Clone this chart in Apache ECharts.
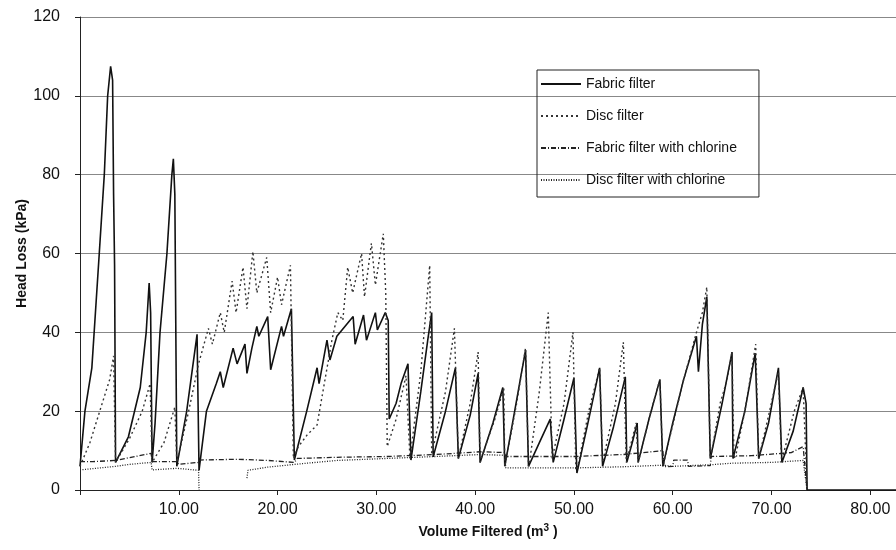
<!DOCTYPE html>
<html>
<head>
<meta charset="utf-8">
<script src="https://cdn.jsdelivr.net/npm/echarts@6/dist/echarts.min.js"></script>
<style>
  html, body { margin: 0; padding: 0; background: #fff; }
  #chart { width: 896px; height: 550px; }
</style>
</head>
<body>
<div id="chart"></div>
<script>
// [volume m3, head loss kPa]
var fabricFilter = [
    [0, 6], [0.5, 20], [1.2, 31], [1.95, 60], [2.46, 80], [2.8, 100], [3.1, 107.5], [3.3, 104], [3.4, 75], [3.5, 57], [3.6, 7],
    [4.9, 13.5], [6.1, 26], [6.7, 40], [7.0, 52.5], [7.15, 45], [7.3, 7],
    [7.6, 17], [8.1, 40], [8.8, 60], [9.3, 80], [9.45, 84], [9.6, 75], [9.8, 6],
    [10.8, 20], [11.85, 39.5], [12.05, 5],
    [12.8, 20], [13.8, 27], [14.2, 30], [14.5, 26], [15.5, 36], [15.9, 32], [16.7, 37], [16.9, 29.6], [17.4, 36], [17.9, 41.5], [18.1, 39],
    [19.0, 44], [19.3, 30.5], [20.4, 41.5], [20.6, 39], [21.4, 46], [21.7, 7.6],
    [22.95, 20], [24.0, 31], [24.2, 27], [25.0, 38], [25.3, 33], [26.0, 39], [27.65, 44], [27.85, 37], [28.7, 44.4], [29.0, 38],
    [29.9, 45], [30.1, 40.6], [30.9, 45], [31.2, 43], [31.3, 18],
    [32.0, 22], [32.5, 27], [33.2, 32], [33.5, 7.6],
    [34.5, 25], [35.2, 38], [35.6, 45], [35.75, 8.4],
    [37.0, 20], [38.0, 31], [38.3, 8],
    [39.5, 19], [40.3, 29.6], [40.5, 7],
    [41.8, 17], [42.8, 26], [43.0, 6],
    [44.0, 20], [45.1, 35.5], [45.4, 6],
    [46.5, 12], [47.6, 18], [47.9, 7],
    [49.0, 18], [50.0, 28.4], [50.3, 4.3],
    [51.5, 18], [52.6, 31], [52.9, 6],
    [54.0, 16], [55.2, 28.7], [55.35, 7],
    [55.9, 12], [56.4, 17], [56.5, 7],
    [57.6, 18], [58.7, 28], [59.0, 6],
    [60.0, 17], [61.1, 28], [62.4, 39], [62.6, 30], [63.0, 42], [63.45, 49], [63.8, 8],
    [65.0, 22], [66.0, 35], [66.1, 8],
    [67.3, 20], [68.35, 34.7], [68.7, 8],
    [69.7, 17], [70.7, 31], [71.05, 7],
    [72.2, 15], [73.2, 26], [73.5, 22], [73.6, 0], [82.6, 0]
];

var discFilter = [
    [0, 6], [1.0, 12], [2.0, 20], [3.0, 28], [3.4, 34], [3.6, 7],
    [3.7, 7], [5.0, 13], [6.3, 20], [7.1, 27], [7.3, 7],
    [7.4, 7], [8.5, 12], [9.6, 21], [9.8, 7],
    [9.9, 7], [11.0, 20], [12.0, 32], [13.0, 41], [13.4, 37], [14.2, 45], [14.6, 40], [15.4, 53], [15.8, 45], [16.5, 56.5], [16.9, 46],
    [17.5, 60.5], [17.9, 50], [18.9, 59], [19.3, 45], [20.0, 54], [20.4, 47], [21.3, 57], [21.6, 8],
    [21.7, 8], [22.1, 11], [23.0, 14], [24.0, 16.5], [24.8, 28], [25.5, 38], [26.1, 45], [26.6, 43], [27.1, 56.5], [27.6, 50],
    [28.5, 60], [28.8, 49], [29.5, 62.6], [29.9, 52], [30.7, 65], [30.95, 50], [31.1, 11],
    [31.2, 11], [32.0, 18], [33.0, 29], [33.4, 8], [33.6, 8], [34.5, 30], [35.0, 45], [35.4, 57], [35.6, 9],
    [35.8, 9], [37.0, 25], [37.9, 41], [38.3, 8],
    [38.5, 8], [39.5, 22], [40.3, 35], [40.5, 7],
    [40.6, 8], [42.0, 18], [42.9, 26], [43.0, 6],
    [43.1, 6], [44.2, 22], [45.1, 36], [45.4, 6],
    [45.5, 7], [46.5, 25], [47.4, 45], [47.8, 8],
    [48.0, 8], [49.0, 22], [49.9, 40], [50.2, 5],
    [50.4, 6], [51.5, 20], [52.6, 31], [52.9, 7],
    [53.0, 7], [54.2, 22], [55.0, 37.5], [55.3, 7],
    [55.4, 7], [56.3, 17], [56.5, 7],
    [56.6, 7], [57.8, 20], [58.7, 28], [59.0, 6],
    [59.1, 6], [61.0, 27], [62.4, 40], [63.0, 45], [63.45, 51.5], [63.8, 8],
    [63.9, 9], [64.8, 22], [65.5, 28], [66.0, 35], [66.2, 8],
    [66.4, 9], [67.3, 20], [68.4, 37], [68.7, 8],
    [68.8, 9], [69.8, 20], [70.7, 30], [71.0, 8],
    [71.2, 9], [72.3, 20], [73.2, 26], [73.6, 0]
];

var fabricChlorine = [
    [0, 7.2], [1.3, 7.2], [3.6, 7.5], [5.0, 8.2], [7.2, 9.3], [7.3, 7.2], [9.8, 7.2], [10.0, 6.5], [12.0, 7.0], [12.1, 7.6],
    [16.0, 7.8], [19.0, 7.5], [21.7, 7.0], [22.0, 8.0], [26.0, 8.3], [31.0, 8.5], [36.0, 9.0], [40.5, 9.7], [43.0, 9.5],
    [43.1, 8.5], [50.0, 8.5], [55.0, 9.0], [59.0, 10.0], [59.1, 5.9], [60.0, 6.0], [60.1, 7.6], [61.5, 7.6], [61.6, 6.0],
    [63.8, 6.2], [63.9, 8.5], [68.0, 8.7], [72.0, 9.5], [73.2, 11], [73.6, 0]
];

var discChlorine = [
    [0, 5.1], [3.6, 6.0], [5.0, 6.5], [7.2, 7.0], [7.3, 5.1], [9.8, 5.5], [10.0, 5.1], [12.0, 5.0], [12.05, 0], [14.0, '-'],
    [16.9, 3], [17.0, 5], [19.0, 5.8], [21.7, 6.5], [26.0, 7.5], [31.0, 8.0], [36.0, 8.5], [40.5, 9.0], [43.0, 8.8],
    [43.1, 5.6], [50.0, 5.6], [55.0, 5.9], [59.0, 6.3], [60.0, 6.0], [63.8, 6.4], [66.0, 6.8], [70.0, 7.0], [73.2, 7.5], [73.6, 0]
];

var seriesNames = ['Fabric filter', 'Disc filter', 'Fabric filter with chlorine', 'Disc filter with chlorine'];

var font = '"Liberation Sans", Arial, sans-serif';
var myChart = echarts.init(document.getElementById('chart'));

function lineSeries(name, data, style) {
    return {
        name: name,
        type: 'line',
        data: data,
        symbol: 'none',
        animation: false,
        itemStyle: { color: style.color },
        lineStyle: style
    };
}

var option = {
    backgroundColor: '#fff',
    color: ['#111', '#333', '#222', '#222'],
    grid: { left: 80, right: 0, top: 17, bottom: 60 },
    legend: {
        data: seriesNames,
        orient: 'vertical',
        left: 537,
        top: 70,
        itemWidth: 40,
        itemHeight: 10,
        itemGap: 18,
        padding: [7, 22, 10, 3],
        borderColor: '#222',
        borderWidth: 1,
        itemStyle: { opacity: 0 },
        textStyle: { fontFamily: font, fontSize: 14, color: '#111' }
    },
    xAxis: {
        type: 'value',
        min: 0,
        max: 82.6,
        interval: 10,
        name: 'Volume Filtered (m{sup|3} )',
        nameLocation: 'middle',
        nameGap: 33,
        nameTextStyle: {
            fontFamily: font, fontSize: 14, fontWeight: 'bold', color: '#111',
            rich: { sup: { fontFamily: font, fontSize: 10, fontWeight: 'bold', color: '#111', padding: [0, 0, 8, 0] } }
        },
        axisLine: { lineStyle: { color: '#222', width: 1 } },
        axisTick: { show: true, length: 5, lineStyle: { color: '#222' } },
        axisLabel: {
            fontFamily: font, fontSize: 16, color: '#111', margin: 12, showMaxLabel: false,
            formatter: function (v) { return v === 0 ? '' : v.toFixed(2); }
        },
        splitLine: { show: false }
    },
    yAxis: {
        type: 'value',
        min: 0,
        max: 120,
        interval: 20,
        name: 'Head Loss (kPa)',
        nameLocation: 'middle',
        nameGap: 51,
        nameMoveOverlap: false,
        nameTextStyle: { fontFamily: font, fontSize: 14, fontWeight: 'bold', color: '#111' },
        axisLine: { show: true, lineStyle: { color: '#222', width: 1 } },
        axisTick: { show: true, length: 5, lineStyle: { color: '#222' } },
        axisLabel: { fontFamily: font, fontSize: 16, color: '#111', margin: 20 },
        splitLine: { lineStyle: { color: '#888', width: 1 } }
    },
    series: [
        lineSeries(seriesNames[0], fabricFilter, { color: '#111', width: 1.6, type: 'solid' }),
        lineSeries(seriesNames[1], discFilter, { color: '#333', width: 1.4, type: [2, 3] }),
        lineSeries(seriesNames[2], fabricChlorine, { color: '#222', width: 1.3, type: [5, 2, 1, 2] }),
        lineSeries(seriesNames[3], discChlorine, { color: '#222', width: 1.3, type: [1, 1.5] })
    ]
};

myChart.setOption(option);

window.addEventListener('resize', function () {
    myChart.resize();
});
</script>
</body>
</html>
